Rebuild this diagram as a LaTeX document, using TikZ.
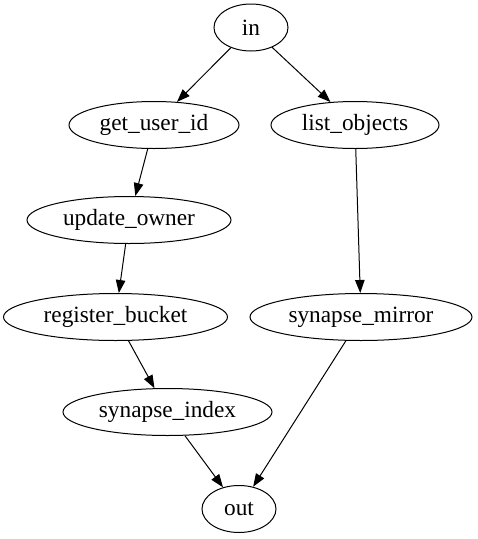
\documentclass[tikz,border=0pt]{standalone}
\usepackage{fontspec}
\setmainfont{Liberation Serif}
\usetikzlibrary{arrows.meta,shapes.geometric}
\tikzset{
  oval/.style={ellipse, draw=black, line width=1pt, inner sep=0pt,
               minimum height=47pt, font=\fontsize{23.3}{28}\selectfont},
  link/.style={-{Triangle[length=13pt,width=9.5pt]}, line width=1pt, draw=black},
}
\begin{document}
\begin{tikzpicture}[x=1pt, y=-1pt]
  \useasboundingbox (0,0) rectangle (478,539);
  \node[oval, minimum width=74pt] (in) at (251,27.5) {in};
  \node[oval, minimum width=170pt] (getuid) at (154,125) {get\_user\_id};
  \node[oval, minimum width=168pt] (listobj) at (355,125) {list\_objects};
  \node[oval, minimum width=204pt] (upowner) at (129,220) {update\_owner};
  \node[oval, minimum width=224pt] (regbucket) at (115.5,317) {register\_bucket};
  \node[oval, minimum width=222pt] (synmirror) at (361,317) {synapse\_mirror};
  \node[oval, minimum width=209pt] (synindex) at (167.5,412) {synapse\_index};
  \node[oval, minimum width=74pt] (out) at (239,509) {out};
  \draw[link] (in) -- (getuid);
  \draw[link] (in) -- (listobj);
  \draw[link] (getuid) -- (upowner);
  \draw[link] (upowner) -- (regbucket);
  \draw[link] (regbucket) -- (synindex);
  \draw[link] (listobj) -- (synmirror);
  \draw[link] (synindex) -- (out);
  \draw[link] (synmirror) -- (out);
\end{tikzpicture}
\end{document}
